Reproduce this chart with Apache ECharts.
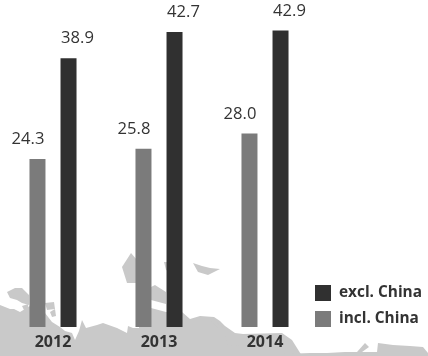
<!DOCTYPE html>
<html><head><meta charset="utf-8">
<style>html,body{margin:0;padding:0;background:#fff}#c{width:428px;height:356px}</style>
<script src="https://cdn.jsdelivr.net/npm/echarts@6/dist/echarts.min.js"></script>
</head><body><div id="c"></div>
<script>
const categories = ['2012','2013','2014'];
const inclChina = [24.3,25.8,28.0];
const exclChina = [38.9,42.7,42.9];
// decorative backdrop map (not data)
const landShapes = [
 [[0,305],[10,309],[14,309],[20,312],[30,306],[45,313],[52,322],[60,327],[65,331],[72,333],[75,340],[79,331],[82,320],[86,328],[97,325],[103,323],[117,328],[127,333],[128,326],[133,328],[139,328],[140,312],[151,308],[166,312],[182,312],[190,319],[200,316],[214,317],[220,321],[225,326],[235,333],[243,334],[282,333],[292,340],[302,356],[0,356]],
 [[210,337],[220,328],[225,333],[228,345],[240,346],[240,356],[200,356],[200,338]],
 [[131,253],[122,267],[127,283],[137,283],[137,260]],
 [[164,262],[170,262],[170,272],[166,270]],
 [[193,263],[198,272],[208,275],[220,269],[210,268],[202,266]],
 [[151,287],[155,285],[166,292],[166,304],[151,300]],
 [[7,292],[15,288],[22,288],[29,295],[29,305],[22,303],[17,300],[10,298]],
 [[22,306],[28,304],[29,313],[25,312]],
 [[45,303],[54,302],[55,309],[47,310]],
 [[50,312],[55,309],[56,316],[52,317]],
 [[211,318],[216,322],[224,328],[218,328],[212,322]],
 [[284,354],[310,353],[327,353],[345,352],[357,352],[365,343],[369,347],[362,352],[377,352],[378,343],[393,345],[410,346],[423,347],[428,353],[428,356],[284,356]]
];
const chart = echarts.init(document.getElementById('c'));
chart.setOption({
 animation:false,
 backgroundColor:'#fff',
 grid:{left:0,top:16,width:318,bottom:29},
 legend:{
  data:['excl. China','incl. China'],orient:'vertical',left:315,top:285,
  itemWidth:16,itemHeight:16,itemGap:10,icon:'rect',selectedMode:false,
  padding:0,
  textStyle:{fontFamily:'Open Sans',fontWeight:700,fontSize:15.4,color:'#333',padding:[0,0,0,3]}
 },
 xAxis:{type:'category',data:categories,
  axisLine:{show:false},axisTick:{show:false},splitLine:{show:false},
  axisLabel:{margin:7,fontFamily:'Open Sans',fontWeight:700,fontSize:16,color:'#333'}},
 yAxis:{type:'value',min:0,max:45,show:false},
 graphic:landShapes.map(points=>({type:'polygon',z:-1,silent:true,shape:{points},style:{fill:'#c9c9c9'}})),
 series:[
  {name:'incl. China',type:'bar',data:inclChina,barWidth:16,barGap:'94%',z:2,
   itemStyle:{color:'#7b7b7b'},
   label:{show:true,position:'top',distance:11,offset:[-9.5,0],fontFamily:'Open Sans',fontSize:16.6,color:'#333',
    formatter:p=>p.value.toFixed(1)}},
  {name:'excl. China',type:'bar',data:exclChina,barWidth:16,z:2,
   itemStyle:{color:'#303030'},
   label:{show:true,position:'top',distance:11,offset:[9,0],fontFamily:'Open Sans',fontSize:16.6,color:'#333',
    formatter:p=>p.value.toFixed(1)}}
 ]
});
</script></body></html>
